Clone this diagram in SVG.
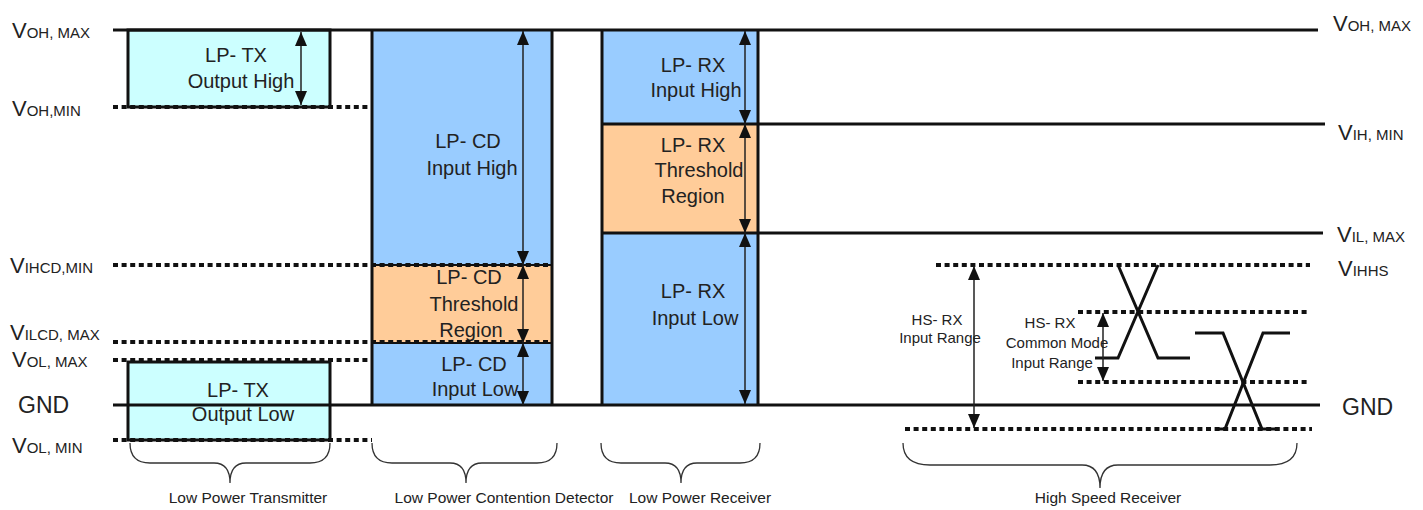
<svg xmlns="http://www.w3.org/2000/svg" width="1423" height="510" viewBox="0 0 1423 510">
<style>
text{font-family:"Liberation Sans",Arial,sans-serif;fill:#222;}
.lbl{font-size:20px;text-anchor:middle;}
.sm{font-size:15px;text-anchor:middle;}
.bt{font-size:15.5px;text-anchor:middle;}
.V{font-size:22px;}
.sub{font-size:15px;}
.solid{stroke:#111;stroke-width:3;fill:none;}
.dot{stroke:#111;stroke-width:4;stroke-dasharray:5 3.6;fill:none;}
.box{stroke:#111;stroke-width:3;}
.cyan{fill:#ccffff;}
.blue{fill:#99ccff;}
.orange{fill:#ffcc99;}
.arr{stroke:#222;stroke-width:1.5;marker-start:url(#ah);marker-end:url(#ah);}
.brace{stroke:#333;stroke-width:1.3;fill:none;}
.wave{stroke:#111;stroke-width:3;fill:none;}
</style>
<defs>
<marker id="ah" markerUnits="userSpaceOnUse" markerWidth="14" markerHeight="12" refX="14" refY="6" orient="auto-start-reverse">
<path d="M0,0 L14,6 L0,12 z" fill="#111"/>
</marker>
</defs>
<rect width="1423" height="510" fill="#fff"/>

<g id="lp-tx-high">
<rect class="box cyan" x="128" y="30" width="202" height="77"/>
<text class="lbl" x="236" y="62">LP- TX</text>
<text class="lbl" x="241" y="88">Output High</text>
</g>

<g id="lp-tx-low">
<rect class="box cyan" x="128" y="362" width="202" height="78"/>
<text class="lbl" x="238" y="397">LP- TX</text>
<text class="lbl" x="243" y="421">Output Low</text>
</g>

<g id="lp-cd">
<rect class="blue" x="372" y="30" width="180" height="375"/>
<rect class="orange" x="372" y="265" width="180" height="78"/>
<line class="solid" x1="372" y1="30" x2="372" y2="405"/>
<line class="solid" x1="552" y1="30" x2="552" y2="405"/>
<line stroke="#111" stroke-width="2" x1="372" y1="265" x2="552" y2="265"/>
<line stroke="#111" stroke-width="2" x1="372" y1="343" x2="552" y2="343"/>
<text class="lbl" x="468" y="148">LP- CD</text>
<text class="lbl" x="472" y="175">Input High</text>
<text class="lbl" x="469" y="284">LP- CD</text>
<text class="lbl" x="474" y="311">Threshold</text>
<text class="lbl" x="471" y="337">Region</text>
<text class="lbl" x="474" y="371">LP- CD</text>
<text class="lbl" x="475" y="396">Input Low</text>
</g>

<g id="lp-rx">
<rect class="blue" x="602" y="30" width="156" height="375"/>
<rect class="orange" x="602" y="124" width="156" height="109"/>
<line class="solid" x1="602" y1="30" x2="602" y2="405"/>
<line class="solid" x1="758" y1="30" x2="758" y2="405"/>
<line class="solid" x1="602" y1="124" x2="758" y2="124"/>
<line class="solid" x1="602" y1="233" x2="758" y2="233"/>
<text class="lbl" x="693" y="72">LP- RX</text>
<text class="lbl" x="696" y="97">Input High</text>
<text class="lbl" x="693" y="152">LP- RX</text>
<text class="lbl" x="699" y="177">Threshold</text>
<text class="lbl" x="693" y="203">Region</text>
<text class="lbl" x="693" y="298">LP- RX</text>
<text class="lbl" x="695" y="325">Input Low</text>
</g>

<g id="levels">
<line class="solid" x1="113" y1="30" x2="1318" y2="30"/>
<line class="solid" x1="758" y1="124" x2="1325" y2="124"/>
<line class="solid" x1="758" y1="233" x2="1323" y2="233"/>
<line class="solid" stroke-width="2.5" x1="113" y1="405" x2="1320" y2="405"/>
<line class="dot" x1="113" y1="107" x2="370" y2="107"/>
<line class="dot" x1="113" y1="265" x2="552" y2="265"/>
<line class="dot" x1="113" y1="342" x2="552" y2="342"/>
<line class="dot" x1="113" y1="360" x2="372" y2="360"/>
<line class="dot" x1="113" y1="440" x2="372" y2="440"/>
<line class="dot" x1="936" y1="265" x2="1310" y2="265"/>
<line class="dot" x1="1078" y1="312" x2="1310" y2="312"/>
<line class="dot" x1="1078" y1="382" x2="1310" y2="382"/>
<line class="dot" x1="905" y1="429" x2="1312" y2="429"/>
</g>

<g id="hs-rx">
<path class="wave" d="M1118,265 L1158,358 L1190,358"/>
<path class="wave" d="M1095,358 L1118,358 L1158,265"/>
<path class="wave" d="M1195,333 L1223,333 L1262,429 L1275,429"/>
<path class="wave" d="M1215,429 L1225,429 L1263,333 L1290,333"/>
<text class="sm" x="937" y="325">HS- RX</text>
<text class="sm" x="940" y="343">Input Range</text>
<text class="sm" x="1050" y="328">HS- RX</text>
<text class="sm" x="1057" y="348">Common Mode</text>
<text class="sm" x="1052" y="368">Input Range</text>
</g>

<g id="connectors">
<line class="arr" x1="301" y1="32" x2="301" y2="105"/>
<line class="arr" x1="523" y1="31" x2="523" y2="265"/>
<line class="arr" x1="523" y1="265" x2="523" y2="343"/>
<line class="arr" x1="523" y1="343" x2="523" y2="405"/>
<line class="arr" x1="745" y1="31" x2="745" y2="124"/>
<line class="arr" x1="745" y1="124" x2="745" y2="233"/>
<line class="arr" x1="745" y1="233" x2="745" y2="404"/>
<line class="arr" x1="974" y1="266" x2="974" y2="428"/>
<line class="arr" x1="1103" y1="313" x2="1103" y2="381"/>
</g>

<g id="braces">
<path class="brace" d="M130,443 Q130,463 150,463 L214,463 Q230,463 230,483 Q230,463 246,463 L310,463 Q330,463 330,443"/>
<path class="brace" d="M372,443 Q372,463 392,463 L450,463 Q466,463 466,483 Q466,463 482,463 L537,463 Q557,463 557,443"/>
<path class="brace" d="M601,443 Q601,463 621,463 L665,463 Q681,463 681,483 Q681,463 697,463 L740,463 Q760,463 760,443"/>
<path class="brace" d="M903,443 Q903,465 930,465 L1082,465 Q1100,465 1100,488 Q1100,465 1118,465 L1270,465 Q1297,465 1297,443"/>
<text class="bt" x="248" y="503">Low Power Transmitter</text>
<text class="bt" x="504" y="503">Low Power Contention Detector</text>
<text class="bt" x="700" y="503">Low Power Receiver</text>
<text class="bt" x="1108" y="503">High Speed Receiver</text>
</g>

<g id="left-labels">
<text x="12" y="38"><tspan class="V">V</tspan><tspan class="sub">OH, MAX</tspan></text>
<text x="12" y="116"><tspan class="V">V</tspan><tspan class="sub">OH,MIN</tspan></text>
<text x="10" y="273"><tspan class="V">V</tspan><tspan class="sub">IHCD,MIN</tspan></text>
<text x="10" y="340"><tspan class="V">V</tspan><tspan class="sub">ILCD, MAX</tspan></text>
<text x="12" y="367"><tspan class="V">V</tspan><tspan class="sub">OL, MAX</tspan></text>
<text x="18" y="413" font-size="23px">GND</text>
<text x="12" y="453"><tspan class="V">V</tspan><tspan class="sub">OL, MIN</tspan></text>
</g>

<g id="right-labels">
<text x="1333" y="31"><tspan class="V">V</tspan><tspan class="sub">OH, MAX</tspan></text>
<text x="1338" y="140"><tspan class="V">V</tspan><tspan class="sub">IH, MIN</tspan></text>
<text x="1337" y="242"><tspan class="V">V</tspan><tspan class="sub">IL, MAX</tspan></text>
<text x="1338" y="276"><tspan class="V">V</tspan><tspan class="sub">IHHS</tspan></text>
<text x="1342" y="415" font-size="23px">GND</text>
</g>
</svg>
